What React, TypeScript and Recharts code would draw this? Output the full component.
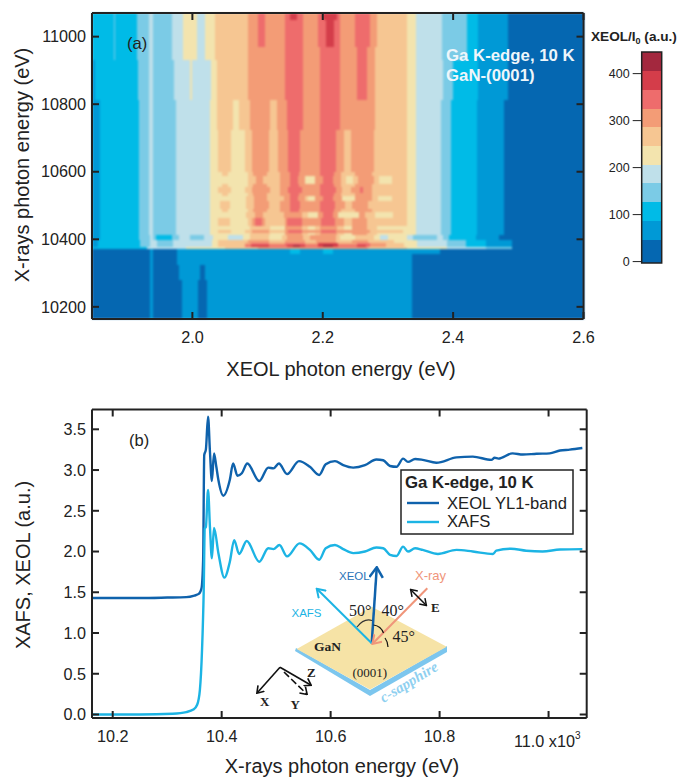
import {
  ComposedChart,
  Line,
  ReferenceArea,
  XAxis,
  YAxis,
} from "recharts";

const FONT = "'Liberation Sans', Arial, sans-serif";
const SERIF = "'Liberation Serif', 'DejaVu Serif', serif";
const INK = "#222222";
const XEOL_COLOR = "#0f62ac";
const XAFS_COLOR = "#1cb4e4";
const XRAY_COLOR = "#f0957a";

// contour levels, low to high
const LEVEL_COLORS = [
  "#0567b1",
  "#0099d6",
  "#00bbe7",
  "#7bcbe6",
  "#bfe0ea",
  "#f3e4ae",
  "#f6c692",
  "#f39c76",
  "#ee6c6c",
  "#d43d4a",
  "#a3283e",
];
const LEVEL_EDGES = [-3, 47, 87, 127, 167, 206, 246, 286, 325, 365, 405, 446];
const BAR_TICKS = [0, 100, 200, 300, 400];

const TOP_X_TICKS = [2.0, 2.2, 2.4, 2.6];
const TOP_Y_TICKS = [10200, 10400, 10600, 10800, 11000];
const LOW_X_TICKS = [10.2, 10.4, 10.6, 10.8, 11.0];
const LOW_Y_TICKS = [0, 0.5, 1, 1.5, 2, 2.5, 3, 3.5];

const X_MIN = 1.846;
const X_MAX = 2.6;
const E_MIN = 10164;
const E_MAX = 11070;

type Run = [number, number]; // [right end in eV, level]

const LEFT_TOP: Run[] = [[1.88, 2], [1.882, 3], [1.915, 2], [1.933, 3], [1.94, 4], [1.969, 3], [1.986, 4], [2.007, 5], [2.02, 4], [2.035, 5]];
const LEFT_MID: Run[] = [[1.851, 1], [1.916, 2], [1.933, 3], [1.94, 4], [1.972, 3], [1.996, 4], [2.0, 5], [2.004, 4], [2.028, 4], [2.037, 5]];
const LEFT_LOW: Run[] = [[1.858, 1], [1.918, 2], [1.933, 3], [1.94, 4], [1.975, 3], [2.027, 4]];
const LEFT_GAP: Run[] = [[1.858, 1], [1.918, 2], [1.935, 3], [1.94, 4], [1.944, 3], [1.969, 2], [1.98, 3], [1.996, 4], [2.018, 3], [2.032, 4]];
const LEFT_BAND: Run[] = [[1.855, 1], [1.92, 2], [1.935, 3], [1.945, 4], [1.97, 3], [2.03, 4]];

const RIGHT_A: Run[] = [[2.343, 5], [2.383, 4], [2.421, 3], [2.438, 2], [2.484, 1], [X_MAX, 0]];
const RIGHT_B: Run[] = [[2.343, 5], [2.385, 4], [2.4, 3], [2.438, 2], [2.484, 1], [X_MAX, 0]];
const RIGHT_C: Run[] = [[2.343, 5], [2.382, 4], [2.397, 3], [2.436, 2], [2.478, 1], [X_MAX, 0]];
const RIGHT_GAP: Run[] = [[2.338, 4], [2.375, 3], [2.385, 4], [2.393, 3], [2.435, 2], [2.47, 1], [X_MAX, 0]];
const RIGHT_BAND: Run[] = [[2.345, 5], [2.39, 4], [2.42, 3], [2.45, 2], [2.49, 1], [X_MAX, 0]];

const TOP_A: Run[] = [...LEFT_TOP, [2.085, 6], [2.1, 7], [2.112, 8], [2.142, 7], [2.15, 8], [2.16, 9], [2.17, 8], [2.193, 7], [2.2, 8], [2.222, 9], [2.226, 8], [2.249, 7], [2.272, 8], [2.283, 7], [2.329, 6], ...RIGHT_A];
const TOP_B: Run[] = [...LEFT_TOP, [2.085, 6], [2.1, 7], [2.112, 8], [2.142, 7], [2.17, 8], [2.193, 7], [2.205, 8], [2.218, 9], [2.226, 8], [2.249, 7], [2.272, 8], [2.283, 7], [2.329, 6], ...RIGHT_A];
const UPPER1: Run[] = [...LEFT_TOP, [2.085, 6], [2.142, 7], [2.17, 8], [2.196, 7], [2.226, 8], [2.252, 7], [2.268, 8], [2.28, 7], [2.33, 6], ...RIGHT_A];
const UPPER2: Run[] = [...LEFT_MID, [2.085, 6], [2.142, 7], [2.17, 8], [2.196, 7], [2.226, 8], [2.252, 7], [2.268, 8], [2.28, 7], [2.33, 6], ...RIGHT_B];
const UPPER3: Run[] = [...LEFT_LOW, [2.037, 5], [2.062, 6], [2.072, 5], [2.088, 6], [2.119, 7], [2.13, 6], [2.145, 7], [2.17, 8], [2.196, 7], [2.226, 8], [2.252, 7], [2.28, 7], [2.33, 6], ...RIGHT_C];
const STRIPE: Run[] = [...LEFT_LOW, [2.04, 5], [2.06, 6], [2.08, 5], [2.091, 6], [2.117, 7], [2.132, 6], [2.147, 7], [2.165, 8], [2.196, 7], [2.22, 8], [2.232, 7], [2.244, 6], [2.257, 7], [2.278, 7], [2.33, 6], ...RIGHT_C];
const SHOULDER: Run[] = [...LEFT_LOW, [2.046, 5], [2.054, 6], [2.085, 5], [2.093, 6], [2.114, 7], [2.135, 6], [2.15, 7], [2.164, 8], [2.196, 7], [2.218, 8], [2.228, 7], [2.25, 6], [2.275, 7], [2.33, 6], ...RIGHT_C];
const NECK1: Run[] = [...LEFT_LOW, [2.085, 5], [2.097, 6], [2.108, 7], [2.135, 6], [2.15, 7], [2.162, 8], [2.172, 7], [2.188, 5], [2.2, 7], [2.216, 8], [2.228, 7], [2.236, 6], [2.246, 5], [2.254, 6], [2.278, 7], [2.286, 6], [2.306, 5], [2.33, 6], ...RIGHT_C];
const BLOB1: Run[] = [...LEFT_LOW, [2.04, 5], [2.06, 6], [2.08, 5], [2.091, 6], [2.119, 7], [2.134, 6], [2.147, 7], [2.168, 8], [2.196, 7], [2.221, 8], [2.229, 7], [2.244, 6], [2.257, 7], [2.262, 8], [2.275, 7], [2.33, 6], ...RIGHT_C];
const NECK2: Run[] = [...LEFT_LOW, [2.083, 5], [2.094, 6], [2.114, 7], [2.14, 6], [2.15, 7], [2.162, 8], [2.172, 7], [2.178, 6], [2.188, 5], [2.2, 7], [2.216, 8], [2.229, 7], [2.25, 5], [2.275, 7], [2.285, 6], [2.306, 5], [2.33, 6], ...RIGHT_C];
const BLOB2: Run[] = [...LEFT_LOW, [2.042, 5], [2.058, 6], [2.083, 5], [2.094, 6], [2.117, 7], [2.134, 6], [2.15, 7], [2.165, 8], [2.196, 7], [2.219, 8], [2.234, 7], [2.245, 6], [2.27, 7], [2.33, 6], ...RIGHT_C];
const NECK3: Run[] = [...LEFT_LOW, [2.083, 5], [2.096, 6], [2.109, 7], [2.14, 6], [2.168, 7], [2.178, 6], [2.193, 5], [2.2, 7], [2.216, 8], [2.224, 7], [2.255, 5], [2.265, 7], [2.28, 6], [2.308, 5], [2.33, 6], ...RIGHT_C];
const BLOB3: Run[] = [...LEFT_LOW, [2.04, 5], [2.058, 6], [2.085, 5], [2.091, 6], [2.096, 7], [2.107, 8], [2.112, 7], [2.142, 6], [2.145, 7], [2.168, 8], [2.198, 7], [2.219, 8], [2.232, 7], [2.245, 6], [2.268, 7], [2.33, 6], ...RIGHT_C];
const NECK4: Run[] = [...LEFT_LOW, [2.088, 5], [2.119, 6], [2.142, 5], [2.168, 7], [2.178, 6], [2.188, 5], [2.196, 6], [2.222, 7], [2.232, 6], [2.245, 5], [2.268, 7], [2.283, 6], [2.33, 5], ...RIGHT_C];
const LINE_ROW: Run[] = [...LEFT_LOW, [2.04, 5], [2.06, 6], [2.08, 5], [2.091, 6], [2.117, 7], [2.142, 6], [2.147, 7], [2.168, 8], [2.198, 7], [2.22, 8], [2.272, 7], [2.323, 6], ...RIGHT_C];
const GAP: Run[] = [...LEFT_GAP, [2.055, 5], [2.078, 4], [2.088, 5], [2.117, 6], [2.137, 5], [2.145, 6], [2.17, 7], [2.18, 6], [2.221, 7], [2.226, 6], [2.25, 5], [2.278, 6], [2.288, 5], [2.3, 4], [2.306, 5], [2.33, 5], ...RIGHT_GAP];
const BAND1: Run[] = [...LEFT_BAND, [2.04, 5], [2.085, 6], [2.117, 7], [2.142, 6], [2.172, 7], [2.19, 6], [2.221, 7], [2.245, 6], [2.27, 7], [2.31, 6], [2.33, 5], ...RIGHT_BAND];
const BAND2: Run[] = [...LEFT_BAND, [2.04, 5], [2.08, 6], [2.09, 7], [2.117, 8], [2.142, 7], [2.172, 8], [2.192, 7], [2.224, 9], [2.252, 7], [2.272, 8], [2.297, 7], [2.325, 6], ...RIGHT_BAND];
const BAND3: Run[] = [...LEFT_BAND, [2.04, 5], [2.08, 6], [2.09, 8], [2.117, 9], [2.145, 8], [2.155, 9], [2.165, 10], [2.172, 9], [2.192, 8], [2.2, 9], [2.215, 10], [2.224, 9], [2.252, 8], [2.266, 9], [2.272, 8], [2.297, 7], [2.325, 6], ...RIGHT_BAND];
const EDGE: Run[] = [[1.93, 2], [1.99, 4], [2.05, 5], [2.1, 6], [2.27, 7], [2.33, 6], [2.39, 5], [2.45, 4], [2.49, 3], [X_MAX, 0]];
const BELOW_A: Run[] = [[1.935, 0], [1.94, 1], [1.977, 0], [2.15, 1], [2.165, 2], [2.2, 1], [2.215, 2], [2.38, 1], [X_MAX, 0]];
const BELOW_B: Run[] = [[1.935, 0], [1.94, 1], [1.977, 0], [2.337, 1], [X_MAX, 0]];
const BELOW_C: Run[] = [[1.935, 0], [1.94, 1], [1.98, 0], [2.012, 1], [2.019, 0], [2.337, 1], [X_MAX, 0]];
const BELOW_D: Run[] = [[1.935, 0], [1.94, 1], [1.984, 0], [2.009, 1], [2.022, 0], [2.337, 1], [X_MAX, 0]];

// row boundaries in eV from the top of the map down, one more than the rows
const ROW_EDGES = [
  E_MAX, 11050, 10970, 10931, 10813, 10724, 10599, 10587, 10564, 10555, 10537, 10528, 10513, 10490,
  10481, 10463, 10439, 10428, 10419, 10413, 10398, 10389, 10383, 10377, 10371, 10356, 10324, 10279, E_MIN,
];
const ROW_RUNS = [
  TOP_A, TOP_B, UPPER1, UPPER2, UPPER3, STRIPE, SHOULDER, NECK1, SHOULDER, BLOB1, SHOULDER, NECK2, BLOB2,
  SHOULDER, NECK3, BLOB3, NECK4, LINE_ROW, NECK4, GAP, BAND1, BAND2, BAND3, EDGE, BELOW_A, BELOW_B, BELOW_C, BELOW_D,
];

// panel b curves
const XEOL_X = [10.162, 10.25, 10.3, 10.335, 10.35, 10.358, 10.363, 10.366, 10.368, 10.371, 10.375, 10.3785, 10.382, 10.386, 10.39, 10.394, 10.403, 10.415, 10.421, 10.429, 10.437, 10.447, 10.469, 10.4855, 10.495, 10.505, 10.52, 10.542, 10.562, 10.579, 10.591, 10.608, 10.623, 10.6415, 10.663, 10.684, 10.6965, 10.709, 10.721, 10.733, 10.742, 10.755, 10.769, 10.794, 10.831, 10.861, 10.895, 10.901, 10.908, 10.934, 10.953, 10.978, 11.002, 11.021, 11.039, 11.062];
const XEOL_Y = [1.43, 1.43, 1.435, 1.44, 1.46, 1.48, 1.55, 1.9, 3.185, 3.25, 3.655, 3.225, 2.866, 3.205, 3.05, 2.877, 2.685, 2.88, 3.08, 2.93, 2.96, 3.08, 2.865, 3.03, 3.02, 3.08, 2.95, 3.11, 3.04, 2.94, 3.07, 3.11, 3.06, 3.03, 3.06, 3.13, 3.12, 3.05, 3.04, 3.14, 3.1, 3.135, 3.125, 3.09, 3.155, 3.165, 3.125, 3.15, 3.14, 3.205, 3.19, 3.2, 3.205, 3.24, 3.25, 3.27];
const XAFS_X = [10.162, 10.25, 10.31, 10.335, 10.348, 10.355, 10.36, 10.364, 10.367, 10.369, 10.371, 10.375, 10.3785, 10.382, 10.386, 10.394, 10.405, 10.415, 10.423, 10.432, 10.446, 10.469, 10.4855, 10.495, 10.506, 10.52, 10.543, 10.562, 10.579, 10.591, 10.608, 10.623, 10.6415, 10.663, 10.684, 10.6965, 10.709, 10.721, 10.733, 10.742, 10.755, 10.769, 10.797, 10.831, 10.861, 10.898, 10.904, 10.931, 10.959, 10.989, 11.021, 11.062];
const XAFS_Y = [0.0, 0.0, 0.01, 0.03, 0.06, 0.12, 0.3, 0.8, 1.5, 2.285, 2.3, 2.755, 2.3, 1.917, 2.29, 1.98, 1.68, 1.875, 2.14, 1.97, 2.13, 1.875, 2.04, 2.03, 2.08, 1.94, 2.1, 2.02, 1.9, 2.04, 2.08, 2.03, 1.98, 2.0, 2.05, 2.04, 1.96, 1.945, 2.06, 2.0, 2.04, 2.02, 1.97, 2.02, 2.0, 1.97, 2.01, 2.035, 2.01, 2.0, 2.025, 2.03];

const xeolData = XEOL_X.map((x, i) => ({ x, y: XEOL_Y[i] }));
const xafsData = XAFS_X.map((x, i) => ({ x, y: XAFS_Y[i] }));

const heatCells = ROW_RUNS.flatMap((runs, r) => {
  let start = X_MIN;
  return runs.map(([end, level]) => {
    const cell = { x1: start, x2: end, y1: ROW_EDGES[r + 1], y2: ROW_EDGES[r], level };
    start = end;
    return cell;
  });
});

const CrispRect = (props: any) => (
  <rect
    x={props.x}
    y={props.y}
    width={props.width}
    height={props.height}
    fill={props.fill}
    stroke="none"
    shapeRendering="crispEdges"
  />
);

// top and right axes keep their tick marks but have no labels
const NoLabel = () => <g />;

const tickText = { fontSize: 16.2, fill: INK, fontFamily: FONT };
const inkLine = { stroke: INK, strokeWidth: 2 };

// frame of a panel: ticks point inward on all four sides
const fourAxes = (xDomain: number[], yDomain: number[], xTicks: number[], yTicks: number[], xFmt: any, yFmt: any) => [
  <XAxis
    key="b"
    type="number"
    dataKey="x"
    domain={xDomain}
    ticks={xTicks}
    allowDataOverflow
    height={60}
    tickSize={-7}
    tickMargin={19}
    tickFormatter={xFmt}
    tick={tickText}
    axisLine={inkLine}
    tickLine={inkLine}
    interval={0}
  />,
  <XAxis
    key="t"
    xAxisId="top"
    orientation="top"
    type="number"
    dataKey="x"
    domain={xDomain}
    ticks={xTicks}
    allowDataOverflow
    height={1}
    tickSize={-7}
    tick={NoLabel}
    axisLine={inkLine}
    tickLine={inkLine}
    interval={0}
  />,
  <YAxis
    key="l"
    type="number"
    domain={yDomain}
    ticks={yTicks}
    allowDataOverflow
    width={92}
    tickSize={-7}
    tickMargin={13}
    tickFormatter={yFmt}
    tick={tickText}
    axisLine={inkLine}
    tickLine={inkLine}
    interval={0}
  />,
  <YAxis
    key="r"
    yAxisId="right"
    orientation="right"
    type="number"
    domain={yDomain}
    ticks={yTicks}
    allowDataOverflow
    width={1}
    tickSize={-7}
    tick={NoLabel}
    axisLine={inkLine}
    tickLine={inkLine}
    interval={0}
  />,
];

function Arrow({ id, color }: { id: string; color: string }) {
  return (
    <marker id={id} markerWidth="5" markerHeight="6" refX="4" refY="3" orient="auto-start-reverse" markerUnits="strokeWidth">
      <path d="M0.3,0.3 L4.4,3 L0.3,5.7" fill="none" stroke={color} strokeWidth="1" />
    </marker>
  );
}

function Overlay() {
  return (
    <svg width={680} height={778} style={{ position: "absolute", left: 0, top: 0, pointerEvents: "none" }}>
      <defs>
        <Arrow id="a-xeol" color={XEOL_COLOR} />
        <Arrow id="a-xafs" color={XAFS_COLOR} />
        <Arrow id="a-xray" color={XRAY_COLOR} />
        <Arrow id="a-ink" color="#111" />
      </defs>

      {/* panel a text */}
      <g fontFamily={FONT} fill={INK}>
        <text x={127} y={49} fontSize={16.5}>(a)</text>
        <text x={446} y={61} fontSize={16.8} fontWeight="bold" fill="#eef6fb">Ga K-edge, 10 K</text>
        <text x={446} y={81} fontSize={16.8} fontWeight="bold" fill="#eef6fb">GaN-(0001)</text>
        <text x={341} y={376} fontSize={20} textAnchor="middle">XEOL photon energy (eV)</text>
        <text transform="translate(29,165) rotate(-90)" fontSize={20} textAnchor="middle">X-rays photon energy (eV)</text>
        <text x={591} y={41} fontSize={13.6} fontWeight="bold">
          XEOL/I<tspan fontSize={9} dy={2.5}>0</tspan><tspan dy={-2.5}> (a.u.)</tspan>
        </text>
      </g>

      {/* panel b text */}
      <g fontFamily={FONT} fill={INK}>
        <text x={129} y={446} fontSize={16.5}>(b)</text>
        <text x={342} y={773} fontSize={20} textAnchor="middle">X-rays photon energy (eV)</text>
        <text transform="translate(30,565) rotate(-90)" fontSize={20} textAnchor="middle">XAFS, XEOL (a.u.)</text>
        <text x={514} y={746.5} fontSize={16.2}>
          11.0 x10<tspan fontSize={10} dy={-8}>3</tspan>
        </text>
      </g>

      {/* legend box */}
      <rect x={401} y={470} width={172} height={64} fill="#fff" stroke={INK} strokeWidth={1.5} />
      <g fontFamily={FONT} fill={INK}>
        <text x={405} y={488} fontSize={16.8} fontWeight="bold">Ga K-edge, 10 K</text>
        <text x={447} y={508.5} fontSize={16.6}>XEOL YL1-band</text>
        <text x={447} y={527} fontSize={16.6}>XAFS</text>
      </g>
      <line x1={407} x2={439} y1={503} y2={503} stroke={XEOL_COLOR} strokeWidth={2.4} />
      <line x1={407} x2={439} y1={522} y2={522} stroke={XAFS_COLOR} strokeWidth={2.4} />

      {/* sample sketch */}
      <polygon points="295,651 370,696 447,652 447,646 370,690 296,648" fill="#7cc6ee" />
      <polygon points="296.7,649 371.7,606.7 446.7,646.7 370,689.5" fill="#f6e3a6" />
      <line x1={371.7} y1={643.3} x2={376.7} y2={568.3} stroke={XEOL_COLOR} strokeWidth={2.5} markerEnd="url(#a-xeol)" />
      <line x1={371.7} y1={643.3} x2={317.3} y2={589.3} stroke={XAFS_COLOR} strokeWidth={2} markerEnd="url(#a-xafs)" />
      <line x1={427.3} y1={588.3} x2={373} y2={643.3} stroke={XRAY_COLOR} strokeWidth={2} markerEnd="url(#a-xray)" />
      <line x1={411} y1={590} x2={426} y2={605} stroke="#111" strokeWidth={1.5} markerStart="url(#a-ink)" markerEnd="url(#a-ink)" />
      <path d="M357,627 Q364,618 372,620.5" fill="none" stroke="#333" strokeWidth={1.2} />
      <path d="M373.5,625 Q381,626 383.5,633" fill="none" stroke="#111" strokeWidth={1.2} />
      <path d="M385,638 Q388,642 388,647" fill="none" stroke="#111" strokeWidth={1.2} />
      <line x1={280} y1={667.3} x2={257.3} y2={692.7} stroke="#111" strokeWidth={1.6} markerEnd="url(#a-ink)" />
      <line x1={280} y1={667.3} x2={310.7} y2={685} stroke="#111" strokeWidth={1.6} markerEnd="url(#a-ink)" />
      <line x1={284} y1={672} x2={306.7} y2={694} stroke="#111" strokeWidth={1.6} strokeDasharray="7 3" markerEnd="url(#a-ink)" />
      <g fontFamily={FONT} fontSize={11.5}>
        <text x={339} y={579.5} fill="#2a73b8">XEOL</text>
        <text x={291.5} y={616.5} fill={XAFS_COLOR}>XAFS</text>
        <text x={415} y={580} fontSize={13} fill={XRAY_COLOR}>X-ray</text>
      </g>
      <g fontFamily={SERIF} fill="#222">
        <text x={349} y={615.5} fontSize={16}>50°</text>
        <text x={381.5} y={615.5} fontSize={16}>40°</text>
        <text x={392.5} y={641.5} fontSize={16}>45°</text>
        <text x={431} y={611.5} fontSize={13} fontWeight="bold">E</text>
        <text x={314} y={651} fontSize={13.5} fontWeight="bold">GaN</text>
        <text x={352.5} y={676.5} fontSize={13}>(0001)</text>
        <text x={260} y={706} fontSize={13} fontWeight="bold">X</text>
        <text x={290.5} y={708.5} fontSize={13} fontWeight="bold">Y</text>
        <text x={307} y={677} fontSize={13} fontWeight="bold">Z</text>
      </g>
      <text
        transform="translate(383.5,703) rotate(-31)"
        fontFamily={SERIF}
        fontStyle="italic"
        fontWeight="bold"
        fontSize={15}
        fill="#8fd0f0"
      >
        c-sapphire
      </text>
    </svg>
  );
}

export default function App() {
  const topAxes = fourAxes(
    [X_MIN, X_MAX],
    [E_MIN, E_MAX],
    TOP_X_TICKS,
    TOP_Y_TICKS,
    (v: number) => v.toFixed(1),
    (v: number) => String(v),
  );
  const lowAxes = fourAxes(
    [10.162, 11.07],
    [-0.043, 3.743],
    LOW_X_TICKS,
    LOW_Y_TICKS,
    (v: number) => (v === 11 ? "" : v.toFixed(1)),
    (v: number) => v.toFixed(1),
  );

  return (
    <div style={{ position: "absolute", left: 0, top: 0, width: 680, height: 778, background: "#fff" }}>
      {/* the map sits in its own chart so that the frame and ticks stay on top of it */}
      <div style={{ position: "absolute", left: 0, top: 0, filter: "blur(1px)" }}>
        <ComposedChart width={680} height={379} data={[]} margin={{ top: 13, right: 96.5, bottom: 0, left: 0 }}>
          <XAxis type="number" dataKey="x" domain={[X_MIN, X_MAX]} allowDataOverflow height={60} tick={false} tickLine={false} axisLine={false} />
          <YAxis type="number" domain={[E_MIN, E_MAX]} allowDataOverflow width={92} tick={false} tickLine={false} axisLine={false} />
          {heatCells.map((c, i) => (
            <ReferenceArea
              key={i}
              x1={c.x1}
              x2={c.x2}
              y1={c.y1}
              y2={c.y2}
              fill={LEVEL_COLORS[c.level]}
              fillOpacity={1}
              ifOverflow="visible"
              shape={CrispRect}
            />
          ))}
        </ComposedChart>
      </div>

      <div style={{ position: "absolute", left: 0, top: 0 }}>
        <ComposedChart width={680} height={379} data={[]} margin={{ top: 12, right: 95.5, bottom: 0, left: 0 }}>
          {topAxes}
        </ComposedChart>
      </div>

      <div style={{ position: "absolute", left: 590, top: 0 }}>
        <ComposedChart width={90} height={290} data={[]} margin={{ top: 52, right: 18.3, bottom: 26, left: 0 }}>
          <XAxis type="number" dataKey="x" domain={[0, 1]} allowDataOverflow height={1} tick={false} tickLine={false} axisLine={false} />
          <YAxis
            type="number"
            domain={[-3, 446]}
            ticks={BAR_TICKS}
            allowDataOverflow
            width={51.7}
            tickSize={9}
            tickMargin={3}
            tick={{ fontSize: 12.5, fill: INK, fontFamily: FONT }}
            axisLine={false}
            tickLine={{ stroke: INK, strokeWidth: 1 }}
            interval={0}
          />
          {LEVEL_COLORS.map((color, i) => (
            <ReferenceArea
              key={color}
              x1={0}
              x2={1}
              y1={LEVEL_EDGES[i]}
              y2={LEVEL_EDGES[i + 1]}
              fill={color}
              fillOpacity={1}
              shape={CrispRect}
            />
          ))}
          <ReferenceArea x1={0} x2={1} y1={-3} y2={446} fill="none" stroke={INK} strokeWidth={1.5} />
        </ComposedChart>
      </div>

      <div style={{ position: "absolute", left: 0, top: 0 }}>
        <ComposedChart width={680} height={778} margin={{ top: 408.5, right: 92.3, bottom: 0, left: 0 }}>
          {lowAxes}
          <Line
            data={xeolData}
            type="monotone"
            dataKey="y"
            stroke={XEOL_COLOR}
            strokeWidth={2.4}
            dot={false}
            isAnimationActive={false}
          />
          <Line
            data={xafsData}
            type="monotone"
            dataKey="y"
            stroke={XAFS_COLOR}
            strokeWidth={2.4}
            dot={false}
            isAnimationActive={false}
          />
        </ComposedChart>
      </div>

      <Overlay />
    </div>
  );
}
